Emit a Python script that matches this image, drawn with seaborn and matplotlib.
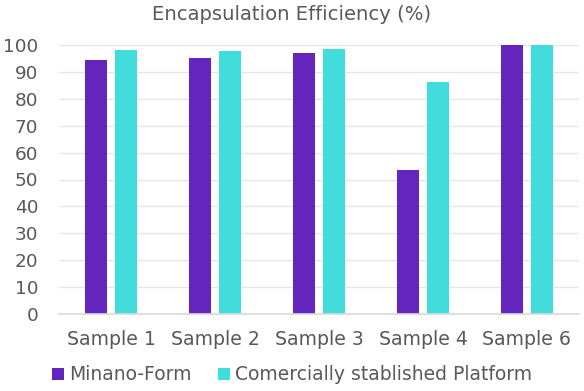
import matplotlib
matplotlib.use("Agg")
import matplotlib.pyplot as plt
import seaborn as sns
import pandas as pd

samples = ["Sample 1", "Sample 2", "Sample 3", "Sample 4", "Sample 6"]
minano_form = [94.4, 95.1, 97.0, 53.4, 100.0]
commercial = [98.1, 97.8, 98.4, 86.2, 100.0]
series_names = ["Minano-Form", "Comercially stablished Platform"]
colors = ["#6424BE", "#41DDDC"]

df = pd.DataFrame({
    "Sample": samples * 2,
    "Value": minano_form + commercial,
    "Series": [series_names[0]] * len(samples) + [series_names[1]] * len(samples),
})

sns.set_theme(style="white")
plt.rcParams["font.family"] = ["DejaVu Sans"]
text_color = "#595959"

fig, ax = plt.subplots(figsize=(5.84, 3.91), dpi=100)
sns.barplot(data=df, x="Sample", y="Value", hue="Series", palette=colors,
            width=0.567, gap=0.24, ax=ax, saturation=1, linewidth=0)

ax.set_ylim(0, 100)
ax.set_yticks(range(0, 101, 10))
ax.yaxis.grid(True, color="#E6E6E6", linewidth=1)
ax.set_axisbelow(True)
ax.set_xlabel("")
ax.set_ylabel("")
for s in ["top", "right", "left"]:
    ax.spines[s].set_visible(False)
ax.spines["bottom"].set_color("#D9D9D9")
ax.tick_params(axis="y", colors=text_color, labelsize=13.3, length=0, pad=15)
ax.tick_params(axis="x", colors=text_color, labelsize=13.6, length=0, pad=11.5)

# title centred on the whole figure, not the axes
fig.text(0.5, 1 - 15 / 391, "Encapsulation Efficiency (%)", color=text_color,
         fontsize=14.1, ha="center", va="center")

ax.legend(loc="center", bbox_to_anchor=(0.5, 1 - 375 / 391),
          bbox_transform=fig.transFigure, ncol=2, frameon=False,
          fontsize=13.5, labelcolor=text_color, handlelength=0.64, handleheight=0.64,
          handletextpad=0.27, columnspacing=1.39)

fig.subplots_adjust(left=59 / 584, right=579 / 584, top=1 - 45 / 391, bottom=1 - 314 / 391)
fig.savefig("out.png", dpi=100)
